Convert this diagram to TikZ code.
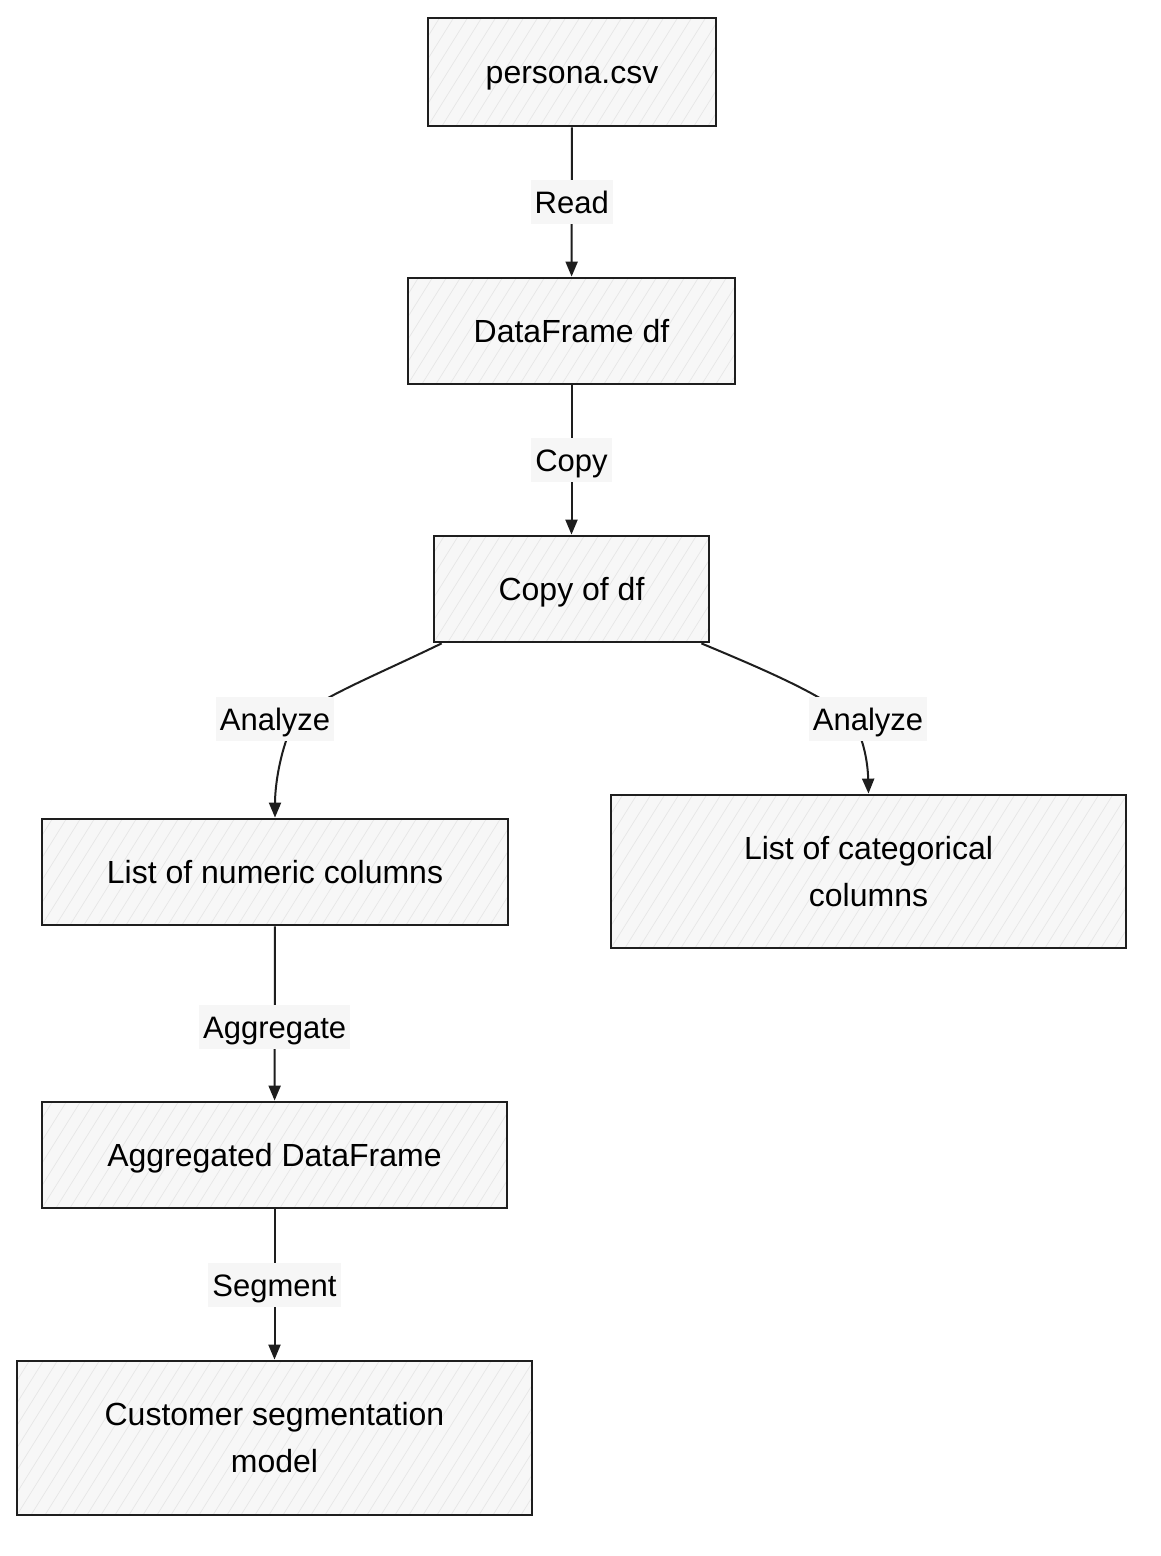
\documentclass[tikz,border=0pt]{standalone}
\usepackage{fontspec}
\setmainfont{Liberation Sans}
\usetikzlibrary{arrows.meta}
\definecolor{ink}{HTML}{1E1E1E}
\definecolor{boxfill}{HTML}{F7F7F7}
\definecolor{hatchc}{HTML}{E6E6E6}
\definecolor{labfill}{HTML}{F6F6F6}
\begin{document}
\begin{tikzpicture}[x=1pt,y=-1pt,
  box/.style={draw=ink,line width=2.8pt,fill=boxfill,align=center,
    font=\fontsize{32}{47}\selectfont,inner sep=0pt,
    path picture={\foreach \k in {-12,...,40}{\draw[hatchc,line width=0.7pt]
      ([xshift=\k*14pt]path picture bounding box.south west) -- ++(58:320pt);}}},
  onebox/.style={box,text height=26pt,text depth=3pt},
  conn/.style={draw=ink,line width=2pt,-{Triangle[length=15pt,width=12pt]}},
  lab/.style={fill=labfill,font=\fontsize{31}{36}\selectfont,text height=26pt,text depth=3pt,
    inner xsep=4pt,inner ysep=7.5pt}]
\useasboundingbox (0,0) rectangle (1160,1556);
\fill[white] (0,0) rectangle (1160,1556);

\node[onebox,minimum width=288pt,minimum height=108pt] (p) at (572,72) {persona.csv};
\node[onebox,minimum width=327pt,minimum height=106pt] (d) at (571.5,331) {DataFrame df};
\node[onebox,minimum width=275pt,minimum height=106pt] (c) at (571.5,589) {Copy of df};
\node[onebox,minimum width=466pt,minimum height=106pt] (n) at (275,872) {List of numeric columns};
\node[box,minimum width=515pt,minimum height=153pt] (g) at (868.5,871.5) {List of categorical\\columns};
\node[onebox,minimum width=465pt,minimum height=106pt] (a) at (274.5,1155) {Aggregated DataFrame};
\node[box,minimum width=515pt,minimum height=154pt] (m) at (274.5,1438) {Customer segmentation\\model};

\draw[conn] (p) -- node[lab] (l1) {Read} (d);
\draw[conn] (d) -- node[lab] (l2) {Copy} (c);
\draw[conn] ([xshift=9pt]c.south west) .. controls (360,683) and (300,705) .. (290,730)
  .. controls (278,760) and (275,790) .. (n.north);
\node[lab] (l3) at (275,719) {Analyze};
\draw[conn] ([xshift=-9pt]c.south east) .. controls (770,672) and (835,700) .. (855,725)
  .. controls (866,745) and (868,770) .. (g.north);
\node[lab] (l4) at (868,719) {Analyze};
\draw[conn] (n) -- node[lab,pos=0.58] (l5) {Aggregate} (a);
\draw[conn] (a) -- node[lab] (l6) {Segment} (m);
\end{tikzpicture}
\end{document}
